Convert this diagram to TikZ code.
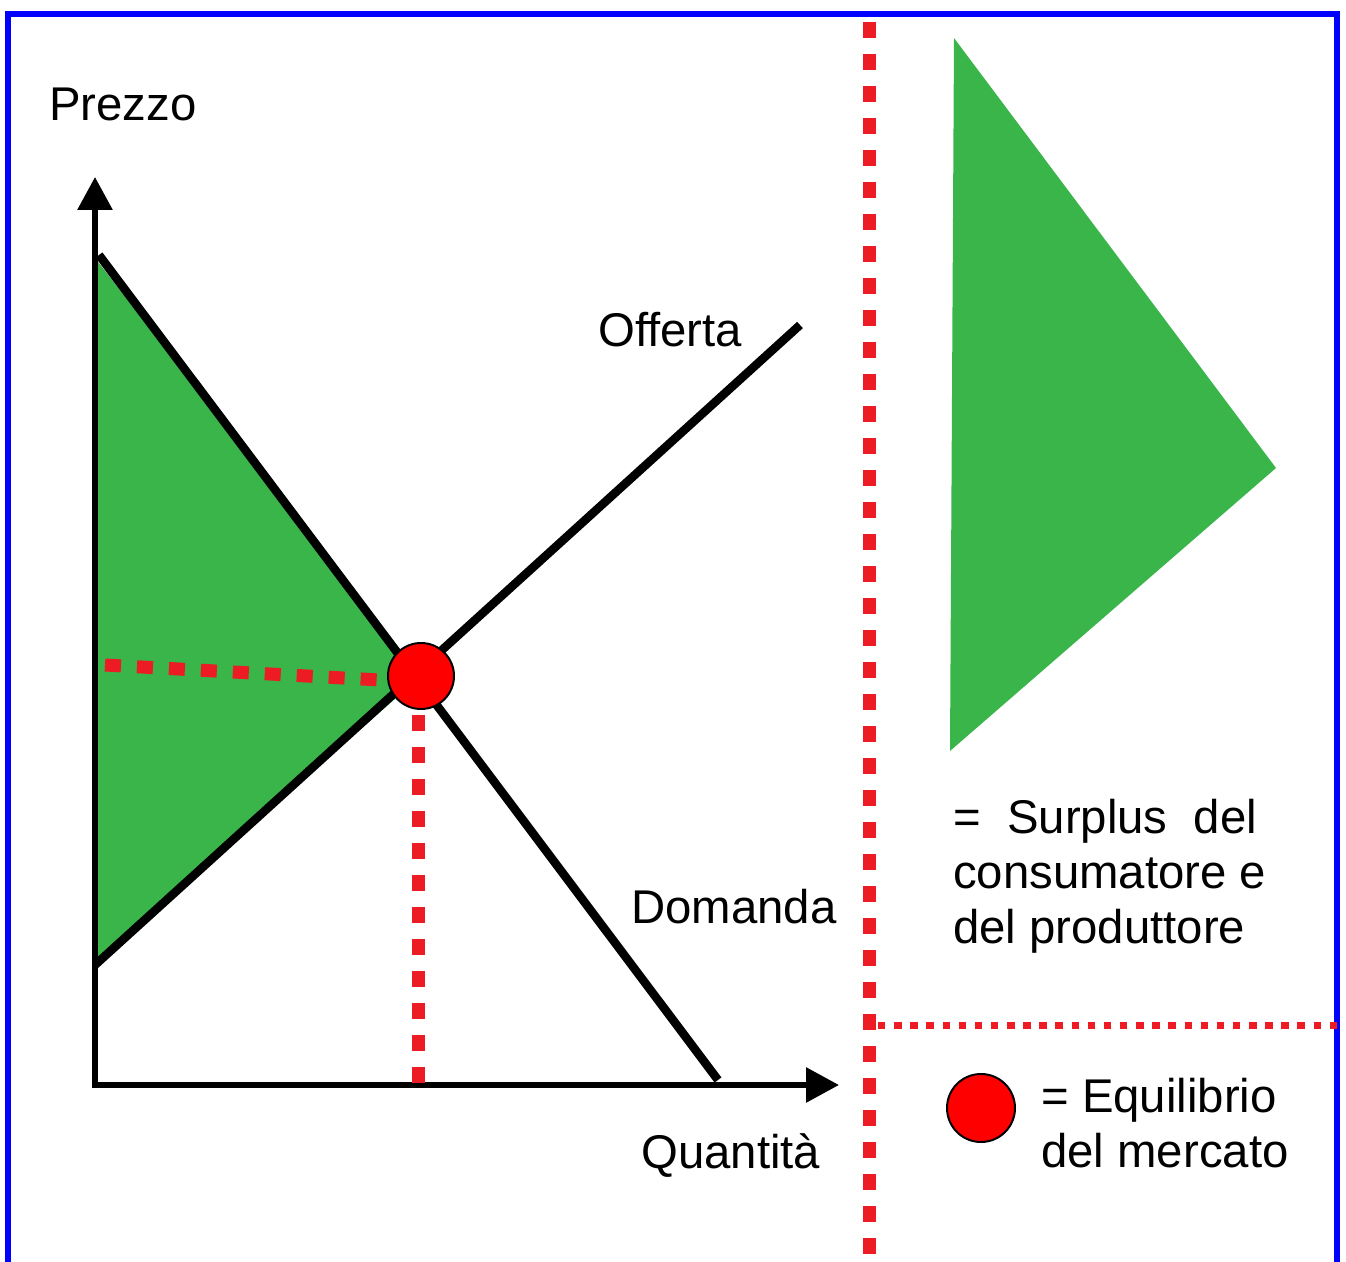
\documentclass[tikz,border=0pt]{standalone}
\usepackage{fontspec}
\setmainfont{Liberation Sans}
\usepackage{xcolor}
\usepackage{tikz}
\usetikzlibrary{arrows.meta, positioning}

\definecolor{surplusgreen}{RGB}{57,181,74}
\definecolor{dotred}{RGB}{237,28,36}

\begin{document}
\begin{tikzpicture}[
    x=0.75pt, y=-0.75pt,
    every node/.style={font=\fontsize{35.5}{41.25}\selectfont, inner sep=0pt},
    lbl/.style={anchor=base west, align=left},
    axis/.style={line width=4.5pt, -{Triangle[length=24.75pt, width=25.5pt]}},
    curve/.style={line width=6.4pt},
    dots/.style={draw=dotred, line width=9.75pt, dash pattern=on 12pt off 12pt},
    thindots/.style={draw=dotred, line width=5.25pt, dash pattern=on 5.6pt off 6.5pt},
    eqdot/.style={circle, draw=black, line width=1.5pt, fill=red, minimum size=49.5pt},
]
  \useasboundingbox (0,0) rectangle (1346,1262);
  \clip (0,0) rectangle (1346,1262);
  \draw[blue, line width=4.5pt] (8,14) rectangle (1337,1300);

  % graph points
  \coordinate (orig) at (95,1085);
  \coordinate (ytip) at (95,177);
  \coordinate (xtip) at (839,1085);
  \coordinate (dtop) at (99,255);
  \coordinate (dbot) at (718,1080);
  \coordinate (sbot) at (95,965);
  \coordinate (stop) at (800,325);
  \coordinate (eqpt) at (421,676);

  % surplus area
  \fill[surplusgreen] (95,258) -- (eqpt) -- (95,963) -- cycle;

  \draw[axis] (95,1088) -- (ytip);
  \draw[axis] (92,1085) -- (xtip);
  \draw[curve] (dtop) -- (dbot);
  \draw[curve] (sbot) -- (stop);

  \coordinate (pstar) at (105,665);
  \coordinate (qstar) at (418,1085);
  \draw[dots] (pstar) -- (380,680);
  \draw[dots] (418,715) -- (qstar);

  \node[eqdot] (eq) at (eqpt) {};

  \node[lbl] (prezzo) at (49,121) {Prezzo};
  \node[lbl] (offerta) at (598,347) {Offerta};
  \node[lbl] (domanda) at (631,923) {Domanda};
  \node[lbl] (quantita) at (641,1168) {Quantità};

  % legend
  \draw[dots] (869,22) -- (869,1275);
  \draw[thindots] (878,1025) -- (1337,1025);
  \fill[surplusgreen] (954,38) -- (1276,468) -- (950,751) -- cycle;
  \node[lbl] (surplus) at (953,943) {=~~Surplus~~del\\consumatore e\\del produttore};
  \node[eqdot, minimum size=51pt] (legdot) at (981,1108) {};
  \node[lbl] (equil) at (1041,1167) {= Equilibrio\\del mercato};
\end{tikzpicture}
\end{document}
